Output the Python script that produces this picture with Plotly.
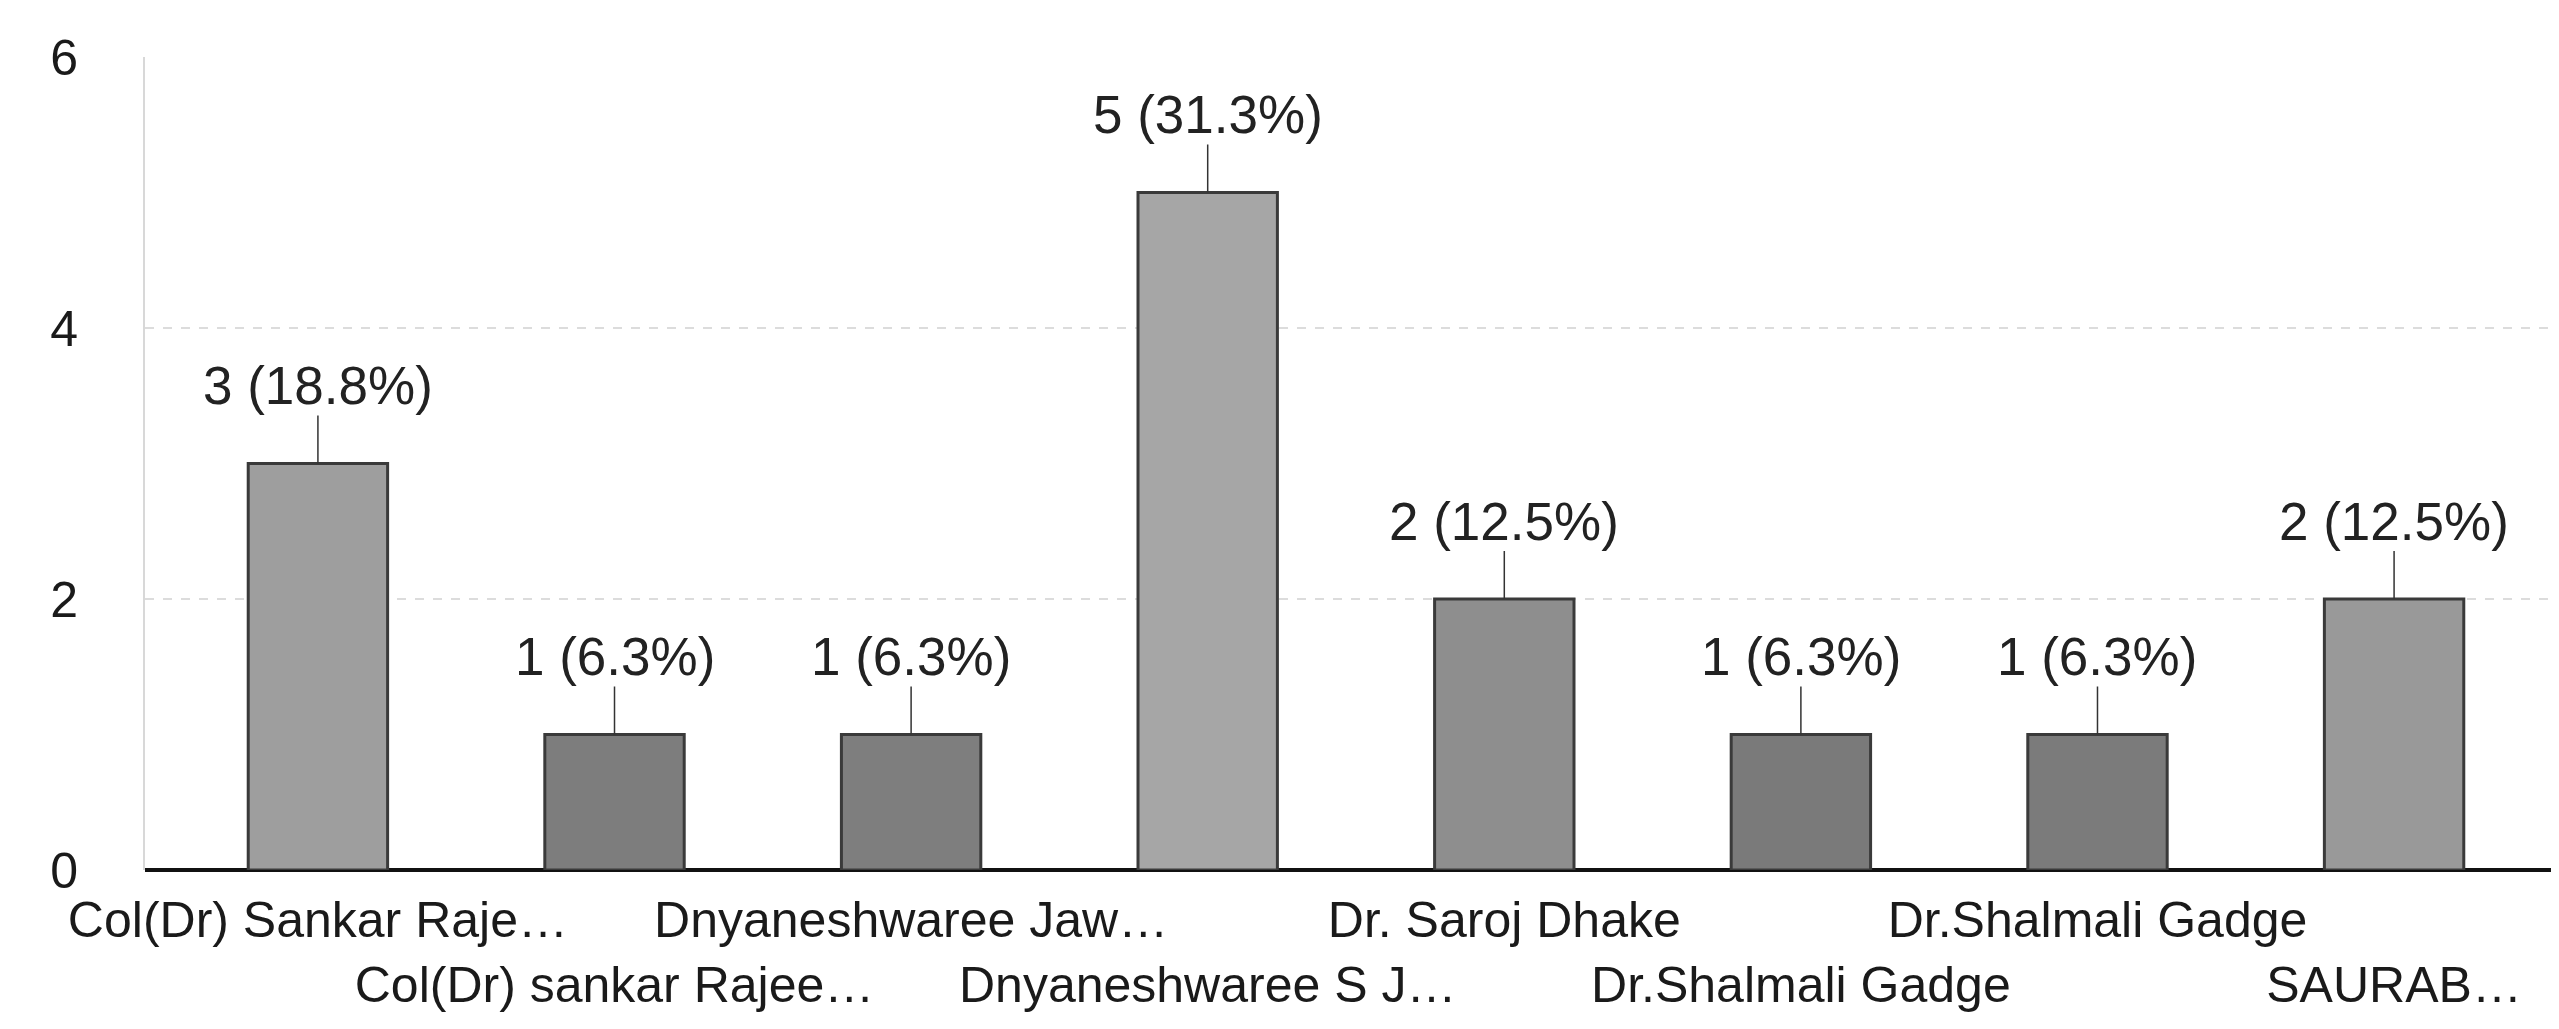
import plotly.graph_objects as go

# Data
names = [
    "Col(Dr) Sankar Raje…",
    "Col(Dr) sankar Rajee…",
    "Dnyaneshwaree Jaw…",
    "Dnyaneshwaree S J…",
    "Dr. Saroj Dhake",
    "Dr.Shalmali Gadge",
    "Dr.Shalmali Gadge",
    "SAURAB…",
]
counts = [3, 1, 1, 5, 2, 1, 1, 2]
y_ticks = [0, 2, 4, 6]

total = sum(counts)
# 6.25 -> 6.3 like the original (round half up)
labels = [f"{c} ({int(c / total * 1000 + 0.5) / 10:.1f}%)" for c in counts]

# bar shading, photographed greys
bar_colors = ["#9e9e9e", "#7d7d7d", "#7e7e7e", "#a6a6a6",
              "#8e8e8e", "#7a7a7a", "#7b7b7b", "#999999"]

FONT = "Liberation Sans, Arial, sans-serif"

xs = list(range(len(names)))
# alternate the category labels over two rows
tick_text = [n if i % 2 == 0 else "<br>" + n for i, n in enumerate(names)]

fig = go.Figure()
fig.add_trace(go.Bar(
    x=xs, y=counts, width=0.47,
    marker=dict(color=bar_colors, line=dict(color="#3a3a3a", width=3)),
    hoverinfo="skip",
))

for i, (c, lab) in enumerate(zip(counts, labels)):
    fig.add_annotation(
        x=i, y=c, text=lab, showarrow=True, arrowhead=0, arrowwidth=1.5,
        arrowcolor="#333333", ax=0, ay=-78, borderpad=0,
        font=dict(family=FONT, size=53, color="#222222"),
    )

fig.update_layout(
    width=2559, height=1029,
    margin=dict(l=137, r=0, t=49, b=167),
    paper_bgcolor="white", plot_bgcolor="white",
    showlegend=False, bargap=0.5,
    font=dict(family=FONT, color="#1a1a1a"),
)
fig.update_xaxes(
    tickmode="array", tickvals=xs, ticktext=tick_text, tickangle=0,
    range=[-0.583, 7.583], showgrid=False, ticks="",
    tickfont=dict(family=FONT, size=50, color="#1a1a1a"),
    showline=False, zeroline=False, ticklabelstandoff=16,
)
fig.update_yaxes(
    range=[0, 6], tickvals=y_ticks, showgrid=True,
    gridcolor="#dcdcdc", gridwidth=2, griddash="dash",
    zeroline=True, zerolinecolor="#111111", zerolinewidth=4,
    showline=True, linecolor="#d8d8d8", linewidth=2,
    tickfont=dict(family=FONT, size=50, color="#1a1a1a"),
    ticks="", ticklabelstandoff=55,
)

fig.write_html("out.html")
